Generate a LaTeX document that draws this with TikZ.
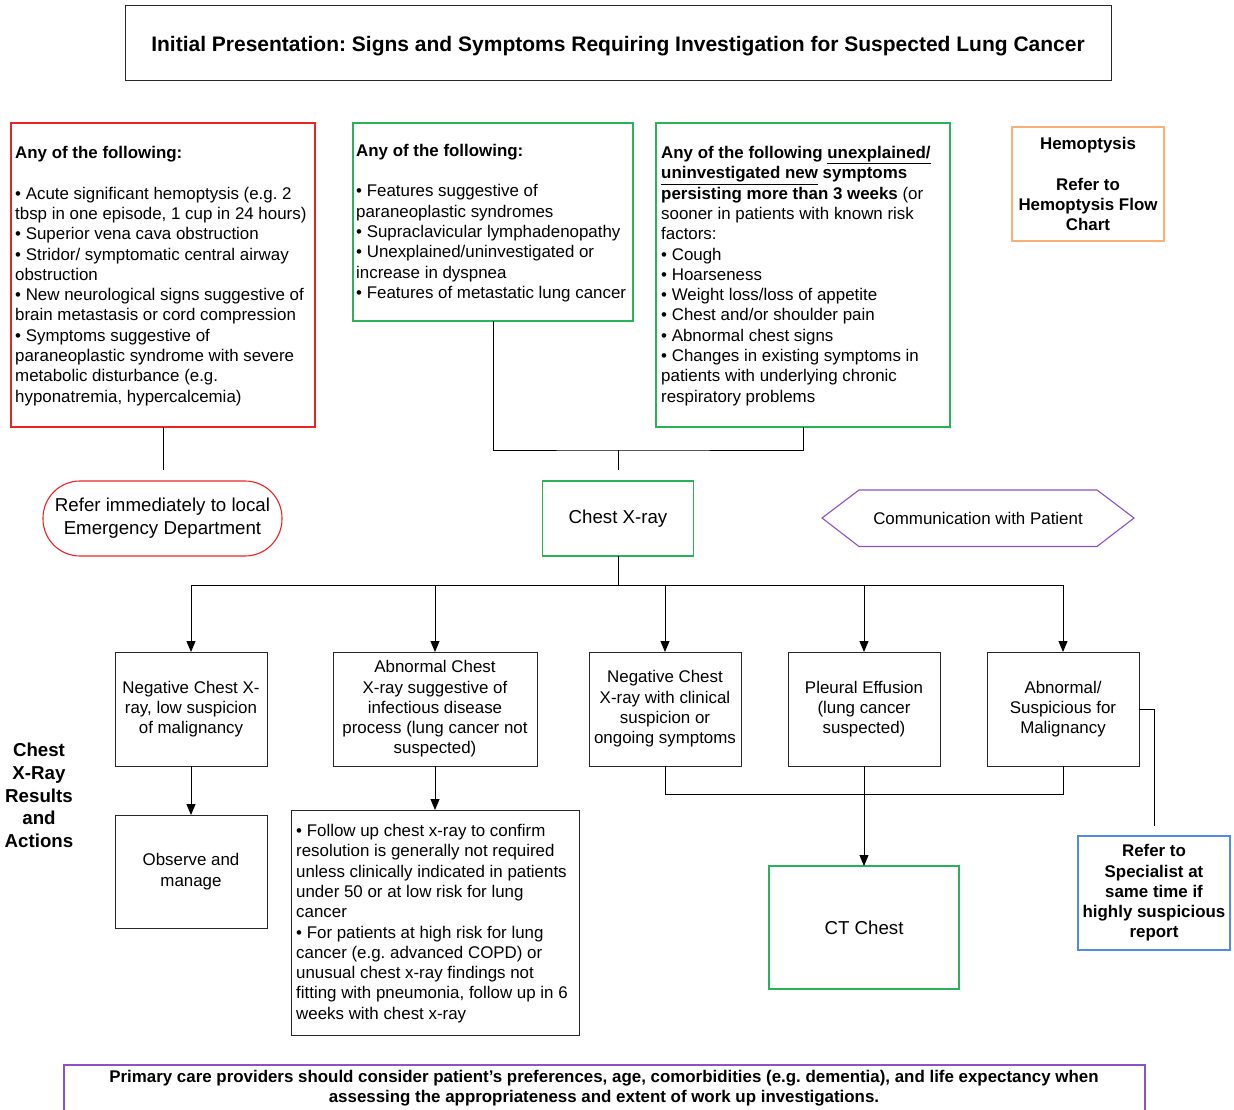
\documentclass[tikz,border=0pt]{standalone}
\usepackage{fontspec}
\setmainfont{Liberation Sans}
\usetikzlibrary{arrows.meta,calc}
\definecolor{cred}{RGB}{235,35,35}
\definecolor{cgreen}{RGB}{40,178,90}
\definecolor{corange}{RGB}{250,175,115}
\definecolor{cpurple}{RGB}{140,80,200}
\definecolor{cblue}{RGB}{80,140,228}
\definecolor{cline}{RGB}{40,40,40}
\newcommand\bodyfont{\fontsize{16.9}{20.3}\selectfont}
\newcommand\largefont{\fontsize{18.7}{22.7}\selectfont}
\newcommand\titlefont{\fontsize{21}{25}\selectfont\bfseries}
\frenchspacing
\begin{document}
\begin{tikzpicture}[x=1pt,y=-1pt,
  box/.style={draw=cline, line width=1pt, rectangle, outer sep=0pt, inner xsep=3pt, inner ysep=0pt, font=\bodyfont, align=center},
  cbox/.style={box, line width=1.1pt},
  txt/.style={font=\bodyfont, align=left, inner sep=0pt, anchor=west},
  arr/.style={-{Triangle[length=11pt,width=9pt]}},
  conn/.style={draw=black, line width=0.9pt},
]
\useasboundingbox (0,0) rectangle (1234,1110);

\node[box, minimum width=986pt, minimum height=75pt, font=\titlefont, text depth=0pt] (title) at (618,43.5)
  {Initial Presentation: Signs and Symptoms Requiring Investigation for Suspected Lung Cancer};

\node[cbox, draw=cred, minimum width=304pt, minimum height=304pt] (redbox) at (163,275) {};
\node[txt] (redtxt) at ($(redbox.west)+(4,1)$)
  {\textbf{Any of the following:}\\[20.3pt]
   • Acute significant hemoptysis (e.g. 2\\
   tbsp in one episode, 1 cup in 24 hours)\\
   • Superior vena cava obstruction\\
   • Stridor/ symptomatic central airway\\
   obstruction\\
   • New neurological signs suggestive of\\
   brain metastasis or cord compression\\
   • Symptoms suggestive of\\
   paraneoplastic syndrome with severe\\
   metabolic disturbance (e.g.\\
   hyponatremia, hypercalcemia)};

\node[cbox, draw=cgreen, minimum width=280pt, minimum height=198pt] (g2) at (493,222) {};
\node[txt] (g2txt) at ($(g2.west)+(3,1)$)
  {\textbf{Any of the following:}\\[20.3pt]
   • Features suggestive of\\
   paraneoplastic syndromes\\
   • Supraclavicular lymphadenopathy\\
   • Unexplained/uninvestigated or\\
   increase in dyspnea\\
   • Features of metastatic lung cancer};

\node[cbox, draw=cgreen, minimum width=294pt, minimum height=304pt] (g3) at (803,275) {};
\node[txt] (g3txt) at ($(g3.west)+(5,1)$)
  {\textbf{Any of the following \underline{unexplained/}}\\
   \textbf{\underline{uninvestigated new} symptoms}\\
   \textbf{persisting more than 3 weeks} (or\\
   sooner in patients with known risk\\
   factors:\\
   • Cough\\
   • Hoarseness\\
   • Weight loss/loss of appetite\\
   • Chest and/or shoulder pain\\
   • Abnormal chest signs\\
   • Changes in existing symptoms in\\
   patients with underlying chronic\\
   respiratory problems};

\node[cbox, draw=corange, minimum width=152pt, minimum height=114pt, font=\bodyfont\bfseries] (hemo) at (1088,184)
  {Hemoptysis\\[20.3pt] Refer to\\ Hemoptysis Flow\\ Chart};

\node[cbox, draw=cred, rounded corners=37pt, minimum width=239pt, minimum height=75pt, font=\largefont] (er) at (162.5,518.5)
  {Refer immediately to local\\ Emergency Department};

\node[cbox, draw=cgreen, minimum width=151pt, minimum height=75pt, font=\largefont] (cxr) at (618,518.5) {Chest X-ray};

\node[font=\bodyfont] (hex) at (978,518) {Communication with Patient};
\draw[cpurple, line width=1.1pt] (822,518) -- (859,490) -- (1097,490) -- (1134,518) -- (1097,546.5) -- (859,546.5) -- cycle;

\node[box, minimum width=152pt, minimum height=114pt] (b1) at (191,709)
  {Negative Chest X-\\ ray, low suspicion\\ of malignancy};
\node[box, minimum width=204pt, minimum height=114pt] (b2) at (435,709)
  {Abnormal Chest\\ X-ray suggestive of\\ infectious disease\\ process (lung cancer not\\ suspected)};
\node[box, minimum width=152pt, minimum height=114pt] (b3) at (665,709)
  {Negative Chest\\ X-ray with clinical\\ suspicion or\\ ongoing symptoms};
\node[box, minimum width=152pt, minimum height=114pt] (b4) at (864,709)
  {Pleural Effusion\\ (lung cancer\\ suspected)};
\node[box, minimum width=152pt, minimum height=114pt] (b5) at (1063,709)
  {Abnormal/\\ Suspicious for\\ Malignancy};

\node[box, minimum width=152pt, minimum height=113pt] (obs) at (191,871.5) {Observe and\\ manage};

\node[box, minimum width=288pt, minimum height=225pt] (fu) at (435,922.5) {};
\node[txt] (futxt) at ($(fu.west)+(5,1)$)
  {• Follow up chest x-ray to confirm\\
   resolution is generally not required\\
   unless clinically indicated in patients\\
   under 50 or at low risk for lung\\
   cancer\\
   • For patients at high risk for lung\\
   cancer (e.g. advanced COPD) or\\
   unusual chest x-ray findings not\\
   fitting with pneumonia, follow up in 6\\
   weeks with chest x-ray};

\node[cbox, draw=cgreen, minimum width=190pt, minimum height=123pt, font=\largefont] (ct) at (864,927.5) {CT Chest};

\node[cbox, draw=cblue, minimum width=152pt, minimum height=114pt, font=\bodyfont\bfseries] (ref) at (1154,893)
  {Refer to\\ Specialist at\\ same time if\\ highly suspicious\\ report};

\node[align=center, font=\largefont\bfseries] (lbl) at (39,795.5) {Chest\\ X-Ray\\ Results\\ and\\ Actions};

\node[align=center, font=\bodyfont\bfseries] (foot) at (604,1088)
  {Primary care providers should consider patient’s preferences, age, comorbidities (e.g. dementia), and life expectancy when\\
   assessing the appropriateness and extent of work up investigations.};
\draw[cpurple, line width=1.1pt] (64,1114) |- (1145,1065) -- (1145,1114);

% connectors
\draw[conn] (redbox.south) -- ++(0,43);
\coordinate (j1) at (618,450);
\draw[conn] (g2.south) |- (j1) -| (g3.south);
\draw[conn] (j1) -- ($(cxr.north)+(0,-11)$);
\coordinate (j2) at (618,585);
\draw[conn] (cxr.south) -- (j2);
\draw[conn] (b1.north |- j2) -- (b5.north |- j2);
\foreach \b in {b1,b2,b3,b4,b5} \draw[conn,arr] (\b.north |- j2) -- (\b.north);
\draw[conn,arr] (b1.south) -- (obs.north);
\draw[conn,arr] (b2.south) -- (fu.north);
\draw[conn] (b3.south) -- ++(0,28) -| (b5.south);
\draw[conn,arr] (b4.south) -- (ct.north);
\coordinate (refend) at (1154,826);
\draw[conn] (b5.east) -| (refend);
\end{tikzpicture}
\end{document}
